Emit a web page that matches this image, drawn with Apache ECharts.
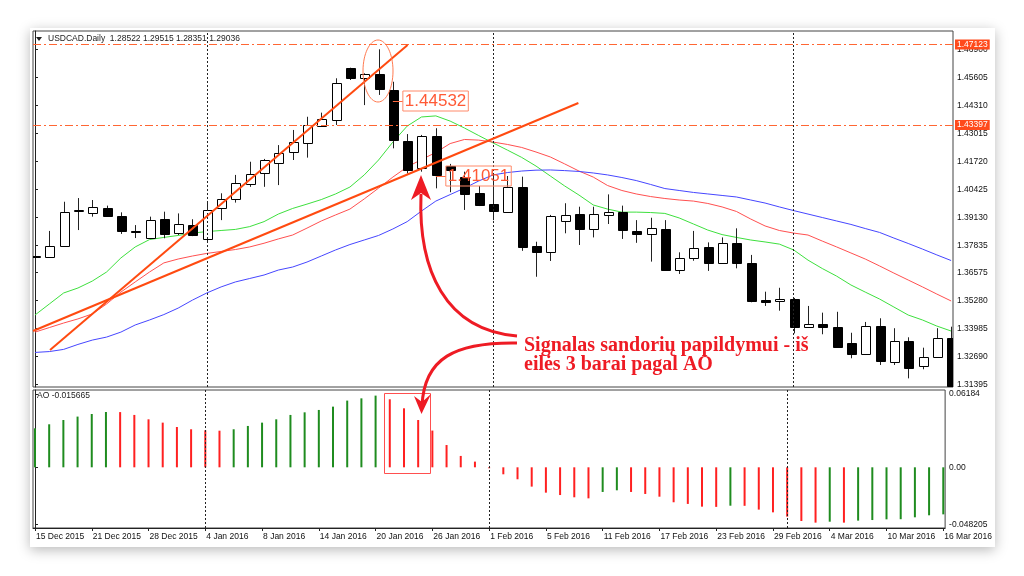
<!DOCTYPE html>
<html><head><meta charset="utf-8">
<script src="https://cdn.jsdelivr.net/npm/echarts@6/dist/echarts.min.js"></script>
<style>
html,body{margin:0;padding:0;background:#fff;width:1024px;height:576px;overflow:hidden}
#card{position:absolute;left:30px;top:28px;width:965px;height:519px;background:#fff;box-shadow:0 3px 12px rgba(0,0,0,0.28);overflow:hidden}
#chart{width:965px;height:519px}
</style></head><body><div id="card"><div id="chart"></div></div>
<script>
const dates = ['15 Dec 2015','16 Dec 2015','17 Dec 2015','18 Dec 2015','21 Dec 2015','22 Dec 2015','23 Dec 2015','24 Dec 2015','28 Dec 2015','29 Dec 2015','30 Dec 2015','31 Dec 2015',
'4 Jan 2016','5 Jan 2016','6 Jan 2016','7 Jan 2016','8 Jan 2016','11 Jan 2016','12 Jan 2016','13 Jan 2016','14 Jan 2016','15 Jan 2016','18 Jan 2016','19 Jan 2016','20 Jan 2016','21 Jan 2016','22 Jan 2016','25 Jan 2016','26 Jan 2016','27 Jan 2016','28 Jan 2016','29 Jan 2016',
'1 Feb 2016','2 Feb 2016','3 Feb 2016','4 Feb 2016','5 Feb 2016','8 Feb 2016','9 Feb 2016','10 Feb 2016','11 Feb 2016','12 Feb 2016','15 Feb 2016','16 Feb 2016','17 Feb 2016','18 Feb 2016','19 Feb 2016','22 Feb 2016','23 Feb 2016','24 Feb 2016','25 Feb 2016','26 Feb 2016','29 Feb 2016',
'1 Mar 2016','2 Mar 2016','3 Mar 2016','4 Mar 2016','7 Mar 2016','8 Mar 2016','9 Mar 2016','10 Mar 2016','11 Mar 2016','14 Mar 2016','15 Mar 2016','16 Mar 2016'];
const tickIdx = [0,4,8,12,16,20,24,28,32,36,40,44,48,52,56,60,64];
const monthStarts = [12,32,53];

const openP = [1.3734,1.3729,1.3780,1.3942,1.3931,1.3957,1.3919,1.3850,1.3816,1.3904,
1.3839,1.3877,1.3813,1.3955,1.3996,1.4067,1.4116,1.4163,1.4214,1.4255,
1.4337,1.4363,1.4602,1.4556,1.4576,1.4502,1.4267,1.4140,1.4290,1.4152,
1.4098,1.4027,1.3973,1.3939,1.4054,1.3782,1.3754,1.3896,1.3928,1.3859,
1.3922,1.3936,1.3850,1.3834,1.3859,1.3669,1.3723,1.3777,1.3703,1.3793,
1.3703,1.3530,1.3524,1.3535,1.3407,1.3419,1.3404,1.3333,1.3279,1.3410,
1.3245,1.3342,1.3227,1.3268,1.3353];
const closeP = [1.3735,1.3780,1.3939,1.3947,1.3962,1.3919,1.3850,1.3849,1.3900,1.3836,
1.3881,1.3831,1.3947,1.3996,1.4072,1.4115,1.4178,1.4212,1.4263,1.4340,
1.4366,1.4536,1.4556,1.4574,1.4505,1.4270,1.4132,1.4290,1.4109,1.4132,
1.4021,1.3970,1.3943,1.4054,1.3776,1.3754,1.3920,1.3924,1.3859,1.3928,
1.3936,1.3854,1.3834,1.3865,1.3669,1.3726,1.3772,1.3700,1.3793,1.3700,
1.3527,1.3520,1.3536,1.3407,1.3419,1.3404,1.3312,1.3281,1.3410,1.3250,
1.3342,1.3216,1.3268,1.3353,1.3133];
const lowP = [1.3678,1.3725,1.3777,1.3854,1.3916,1.3916,1.3836,1.3817,1.3813,1.3816,
1.3831,1.3826,1.3803,1.3900,1.3981,1.4054,1.4054,1.4062,1.4178,1.4189,
1.4332,1.4340,1.4548,1.4432,1.4479,1.4232,1.4116,1.4124,1.4047,1.4029,
1.3947,1.3965,1.3900,1.3934,1.3758,1.3638,1.3711,1.3839,1.3785,1.3820,
1.3882,1.3813,1.3795,1.3708,1.3665,1.3651,1.3712,1.3665,1.3697,1.3677,
1.3520,1.3503,1.3481,1.3376,1.3402,1.3372,1.3310,1.3261,1.3276,1.3230,
1.3230,1.3168,1.3210,1.3264,1.3123];
const highP = [1.3766,1.3850,1.3985,1.4002,1.3993,1.3967,1.3936,1.3877,1.3916,1.3939,
1.3931,1.3904,1.3988,1.4024,1.4109,1.4170,1.4183,1.4247,1.4317,1.4378,
1.4397,1.4556,1.4605,1.4579,1.4690,1.4540,1.4298,1.4294,1.4325,1.4160,
1.4124,1.4058,1.4116,1.4104,1.4101,1.3800,1.3924,1.3978,1.3962,1.3962,
1.4019,1.3967,1.3900,1.3911,1.3900,1.3751,1.3850,1.3797,1.3820,1.3862,
1.3739,1.3569,1.3587,1.3540,1.3503,1.3472,1.3476,1.3379,1.3429,1.3446,
1.3400,1.3358,1.3310,1.3400,1.3407];

const maGreen = [1.3461,1.3512,1.3563,1.3586,1.3618,1.3660,1.3725,1.3776,1.3810,1.3820,
1.3829,1.3840,1.3847,1.3852,1.3857,1.3870,1.3893,1.3928,1.3954,1.3974,
1.3995,1.4021,1.4053,1.4109,1.4178,1.4261,1.4335,1.4377,1.4382,1.4358,
1.4326,1.4291,1.4257,1.4224,1.4190,1.4150,1.4104,1.4058,1.4016,1.3970,
1.3951,1.3937,1.3937,1.3935,1.3931,1.3910,1.3882,1.3854,1.3833,1.3820,
1.3808,1.3799,1.3789,1.3762,1.3715,1.3676,1.3641,1.3600,1.3567,1.3535,
1.3498,1.3461,1.3438,1.3410,1.3387];
const maRed = [1.3382,1.3403,1.3424,1.3443,1.3466,1.3512,1.3567,1.3614,1.3660,1.3702,
1.3720,1.3734,1.3746,1.3755,1.3764,1.3776,1.3793,1.3813,1.3831,1.3863,
1.3896,1.3924,1.3951,1.3998,1.4048,1.4099,1.4146,1.4180,1.4213,1.4254,
1.4273,1.4270,1.4261,1.4250,1.4236,1.4215,1.4192,1.4160,1.4127,1.4099,
1.4060,1.4037,1.4021,1.4009,1.4000,1.3993,1.3988,1.3977,1.3961,1.3940,
1.3905,1.3873,1.3852,1.3840,1.3831,1.3803,1.3776,1.3748,1.3720,1.3688,
1.3655,1.3623,1.3591,1.3558,1.3526];
const maBlue = [1.3288,1.3292,1.3302,1.3325,1.3345,1.3359,1.3382,1.3415,1.3438,1.3463,
1.3493,1.3530,1.3563,1.3591,1.3614,1.3630,1.3646,1.3669,1.3683,1.3706,
1.3734,1.3762,1.3787,1.3808,1.3829,1.3859,1.3893,1.3942,1.3988,1.4018,
1.4048,1.4081,1.4109,1.4120,1.4127,1.4131,1.4132,1.4129,1.4125,1.4118,
1.4109,1.4097,1.4083,1.4065,1.4046,1.4037,1.4028,1.4021,1.4014,1.4007,
1.3993,1.3979,1.3961,1.3944,1.3928,1.3912,1.3896,1.3880,1.3861,1.3843,
1.3817,1.3792,1.3766,1.3739,1.3713];

const aoValues = [0.0329,0.0363,0.0399,0.0428,0.0450,0.0467,0.0466,0.0442,0.0405,0.0377,
0.0340,0.0321,0.0312,0.0309,0.0321,0.0349,0.0377,0.0405,0.0442,0.0464,
0.0484,0.0512,0.0563,0.0582,0.0605,0.0574,0.0498,0.0399,0.0310,0.0188,
0.0096,0.0048,-0.0008,-0.0059,-0.0101,-0.0163,-0.0214,-0.0234,-0.0253,-0.0262,
-0.0208,-0.0194,-0.0208,-0.0225,-0.0248,-0.0295,-0.0309,-0.0332,-0.0334,-0.0324,
-0.0325,-0.0357,-0.0380,-0.0416,-0.0453,-0.0467,-0.0459,-0.0467,-0.0450,-0.0445,
-0.0439,-0.0438,-0.0422,-0.0405,-0.0397];

const priceTicks = [1.31395,1.32690,1.33985,1.35280,1.36575,1.37835,1.39130,1.40425,1.41720,1.43015,1.44310,1.45605,1.46900];
const aoTicks = [0.06184,0,-0.048205];
const aoTickLabels = ['0.06184','0.00','-0.048205'];
const hLevels = [1.47123,1.43397];
const trendA = [[1.05,1.32992],[26.03,1.47099]];
const trendB = [[-0.14,1.33871],[37.96,1.44416]];
const noteIdx = [25,28];
const notePrices = [1.44532,1.41051];
const headerText = 'USDCAD.Daily  1.28522 1.29515 1.28351 1.29036';
const aoHeader = 'AO -0.015665';
const noteLine1 = 'Signalas sandorių papildymui - iš';
const noteLine2 = 'eilės 3 barai pagal AO';

const FONT = 'Liberation Sans, Arial, sans-serif';
const candles = dates.map((d,i)=>[i, openP[i], closeP[i], lowP[i], highP[i]]);

function renderCandle(params, api){
  const x = api.value(0), o = api.value(1), c = api.value(2), l = api.value(3), h = api.value(4);
  const pO = api.coord([x,o]), pC = api.coord([x,c]), pL = api.coord([x,l]), pH = api.coord([x,h]);
  const w = Math.round(api.size([1,0])[0]*0.62);
  const cx = Math.round(pO[0]) + 0.5;
  const top = Math.round(Math.min(pO[1],pC[1])) + 0.5, bot = Math.round(Math.max(pO[1],pC[1])) + 0.5;
  const bull = c >= o;
  return {type:'group', children:[
    {type:'line', shape:{x1:cx,y1:pH[1],x2:cx,y2:pL[1]}, style:{stroke:'#222',lineWidth:1}},
    {type:'rect', shape:{x:cx-Math.floor(w/2), y:top, width:w, height:Math.max(bot-top,1)}, style:{fill: bull?'#fff':'#000', stroke:'#000', lineWidth:1}}
  ]};
}

const X0 = -0.14, X1 = 64.13;
const HL = '#ff6633';
const chart = echarts.init(document.getElementById('chart'));
const option = {
  animation:false,
  backgroundColor:'#fff',
  grid:[
    {left:3, top:3, width:920, height:356, show:true, borderColor:'#444', borderWidth:1},
    {left:3, top:362, width:920, height:138, show:true, borderColor:'#444', borderWidth:1}
  ],
  xAxis:[
    {type:'value', gridIndex:0, min:X0, max:X1, show:false, splitLine:{show:false}},
    {type:'value', gridIndex:1, min:X0, max:X1,
     axisLine:{show:true, onZero:false, lineStyle:{color:'#222'}},
     axisTick:{show:true, customValues:tickIdx, length:3, lineStyle:{color:'#222'}},
     axisLabel:{customValues:tickIdx, formatter:v=>dates[Math.round(v)], align:'left', fontSize:8.5, fontFamily:FONT, color:'#111', margin:4, padding:[0,0,0,1]},
     splitLine:{show:false}}
  ],
  yAxis:[
    {type:'value', gridIndex:0, position:'right', min:1.31281, max:1.47747,
     axisLine:{show:true, lineStyle:{color:'#222'}},
     axisTick:{show:true, customValues:priceTicks, length:3, lineStyle:{color:'#222'}},
     axisLabel:{customValues:priceTicks, formatter:v=>v.toFixed(5), fontSize:8.5, fontFamily:FONT, color:'#111', margin:4},
     splitLine:{show:false}},
    {type:'value', gridIndex:1, position:'right', min:-0.05122, max:0.06524,
     axisLine:{show:true, lineStyle:{color:'#222'}},
     axisTick:{show:true, customValues:aoTicks, length:3, lineStyle:{color:'#222'}},
     axisLabel:{customValues:aoTicks, formatter:v=>{const k=aoTicks.findIndex(t=>Math.abs(t-v)<1e-7);return k>=0?aoTickLabels[k]:'';}, fontSize:8.5, fontFamily:FONT, color:'#111', margin:4},
     splitLine:{show:false}}
  ],
  series:[
    {type:'line', name:'MA green', xAxisIndex:0, yAxisIndex:0, data:maGreen.map((v,i)=>[i,v]), showSymbol:false, lineStyle:{color:'#3ee03e', width:1}, z:2,
     markLine:{silent:true, symbol:'none', label:{show:false}, lineStyle:{type:[2,2], color:'#222', width:1}, data:monthStarts.map(m=>({xAxis:m}))}},
    {type:'line', name:'MA red', xAxisIndex:0, yAxisIndex:0, data:maRed.map((v,i)=>[i,v]), showSymbol:false, lineStyle:{color:'#ff5050', width:1}, z:2,
     markLine:{silent:true, symbol:'none', precision:5,
       lineStyle:{type:[8,3,2,3], color:HL, width:1},
       label:{show:true, position:'end', distance:2, backgroundColor:'#ff4a1c', color:'#fff', fontSize:8.5, fontFamily:FONT, padding:[1,2,0,2]},
       data:hLevels.map(v=>({yAxis:v, lineStyle:{type:[8,3,2,3], color:HL, width:1}, label:{formatter:v.toFixed(5)}}))}},
    {type:'line', name:'MA blue', xAxisIndex:0, yAxisIndex:0, data:maBlue.map((v,i)=>[i,v]), showSymbol:false, lineStyle:{color:'#4646ff', width:1}, z:2},
    {type:'custom', name:'USDCAD', xAxisIndex:0, yAxisIndex:0, data:candles, renderItem:renderCandle, clip:true, z:3,
     encode:{x:0, y:[1,2,3,4]}},
    {type:'line', name:'trendA', xAxisIndex:0, yAxisIndex:0, data:trendA, showSymbol:false, lineStyle:{color:'#ff4a10', width:2}, z:5},
    {type:'line', name:'trendB', xAxisIndex:0, yAxisIndex:0, data:trendB, showSymbol:false, lineStyle:{color:'#ff4a10', width:2}, z:5},
    {type:'bar', name:'AO', xAxisIndex:1, yAxisIndex:1, barWidth:2,
     data:aoValues.map((v,i)=>({value:[i,v], itemStyle:{color:(i===0||v>=aoValues[i-1])?'#1f8c1f':'#ff2020'}})),
     markLine:{silent:true, symbol:'none', label:{show:false}, lineStyle:{type:[2,2], color:'#222', width:1}, data:monthStarts.map(m=>({xAxis:m}))}}
  ]
};
chart.setOption(option);

const RED = '#ee1b24';
const graphics = [
  {type:'polygon', shape:{points:[[6,9],[12,9],[9,13]]}, style:{fill:'#222'}, z:100},
  {type:'text', x:18, y:11, style:{text:headerText, font:'8.5px '+FONT, fill:'#222', verticalAlign:'middle'}, z:100},
  {type:'text', x:7, y:368, style:{text:aoHeader, font:'8.5px '+FONT, fill:'#222', verticalAlign:'middle'}, z:100},
  {type:'ellipse', shape:{cx:348, cy:43, rx:15, ry:31}, style:{fill:'none', stroke:'#ff7a50', lineWidth:1}, z:100},
  {type:'rect', shape:{x:354.5, y:365.5, width:46, height:80}, style:{fill:'none', stroke:'#ff4f4f', lineWidth:1}, z:100},
  {type:'bezierCurve', shape:{x1:487,y1:308,cpx1:415,cpy1:302,cpx2:388,cpy2:242,x2:391,y2:166}, style:{stroke:RED, lineWidth:3, fill:'none'}, z:100},
  {type:'polygon', shape:{points:[[391,147],[381,172],[391,165],[401,172]]}, style:{fill:RED}, z:100},
  {type:'bezierCurve', shape:{x1:487,y1:315,cpx1:425,cpy1:314,cpx2:394,cpy2:330,x2:392,y2:378}, style:{stroke:RED, lineWidth:3, fill:'none'}, z:100},
  {type:'polygon', shape:{points:[[391.5,386],[384,368],[392,374],[401,366]]}, style:{fill:RED}, z:100},
  {type:'text', x:494, y:318, style:{text:noteLine1, font:'bold 20px Liberation Serif, serif', fill:RED, verticalAlign:'middle'}, z:100},
  {type:'text', x:494, y:337, style:{text:noteLine2, font:'bold 20px Liberation Serif, serif', fill:RED, verticalAlign:'middle'}, z:100}
];
noteIdx.forEach((idx,k)=>{
  const p = chart.convertToPixel({xAxisIndex:0, yAxisIndex:0}, [idx, notePrices[k]]);
  const bx = p[0] + 10;
  graphics.push({type:'line', shape:{x1:p[0], y1:Math.round(p[1])+0.5, x2:bx, y2:Math.round(p[1])+0.5}, style:{stroke:'#ff6a40', lineWidth:1}, z:100});
  graphics.push({type:'text', x:bx, y:Math.round(p[1]), style:{text:notePrices[k].toFixed(5), font:'17px '+FONT, fill:'#ff5a36', verticalAlign:'middle', borderColor:'#ff8a6a', borderWidth:1, padding:[2,2,1,2]}, z:100});
});
chart.setOption({graphic:graphics});
</script></body></html>
